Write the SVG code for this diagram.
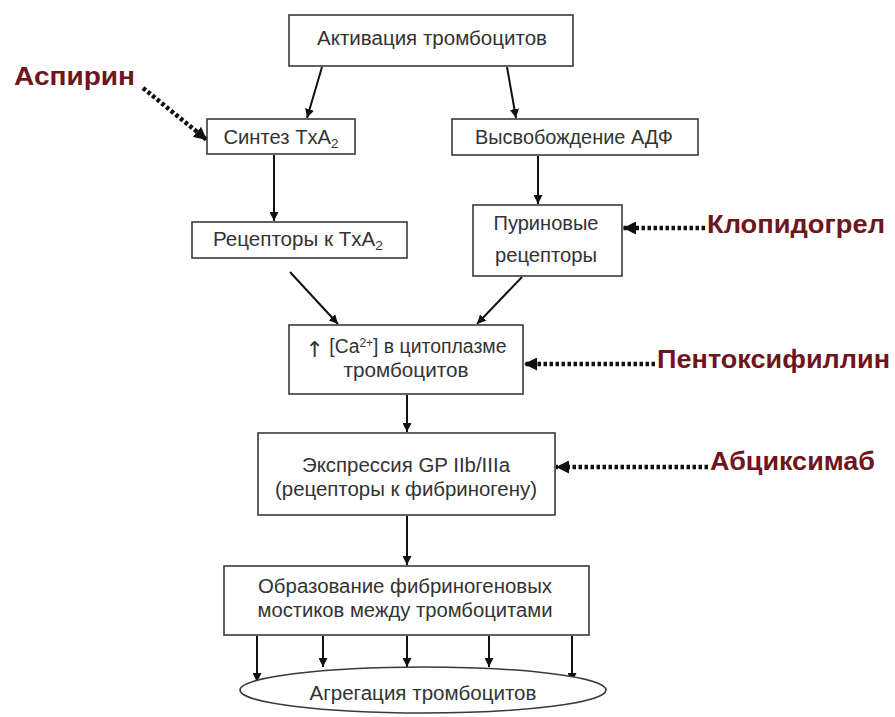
<svg xmlns="http://www.w3.org/2000/svg" width="895" height="717" viewBox="0 0 895 717">
<style>
.box{fill:#fff;stroke:#3a3a3a;stroke-width:1.6}
.t{font-family:"Liberation Sans",Arial,sans-serif;font-size:19.5px;fill:#333;text-anchor:middle}
.drug{font-family:"Liberation Sans",Arial,sans-serif;font-size:25px;font-weight:bold;fill:#6e1520}
.c{stroke:#111;stroke-width:2;fill:none}
.d{stroke:#111;stroke-width:4.5;stroke-dasharray:3.5 2.5;fill:none}
</style>
<defs>
<marker id="ah" viewBox="0 0 10 10" refX="10" refY="5" markerWidth="9" markerHeight="9" markerUnits="userSpaceOnUse" orient="auto"><path d="M0,0 L10,5 L0,10 z" fill="#111"/></marker>
<marker id="dh" viewBox="0 0 10 10" refX="10" refY="5" markerWidth="13" markerHeight="13" markerUnits="userSpaceOnUse" orient="auto"><path d="M0,0 L10,5 L0,10 z" fill="#111"/></marker>
</defs>
<rect width="895" height="717" fill="#fff"/>

<g id="connectors">
<line class="c" x1="322" y1="67" x2="307" y2="118" marker-end="url(#ah)"/>
<line class="c" x1="507" y1="67" x2="516" y2="118" marker-end="url(#ah)"/>
<line class="c" x1="274" y1="155" x2="274" y2="221" marker-end="url(#ah)"/>
<line class="c" x1="538" y1="156" x2="538" y2="204" marker-end="url(#ah)"/>
<line class="c" x1="290" y1="272" x2="338" y2="324" marker-end="url(#ah)"/>
<line class="c" x1="522" y1="277" x2="477" y2="324" marker-end="url(#ah)"/>
<line class="c" x1="407" y1="395" x2="407" y2="432" marker-end="url(#ah)"/>
<line class="c" x1="407" y1="516" x2="407" y2="565" marker-end="url(#ah)"/>
<line class="c" x1="257" y1="636" x2="257" y2="682" marker-end="url(#ah)"/>
<line class="c" x1="323" y1="636" x2="323" y2="667" marker-end="url(#ah)"/>
<line class="c" x1="407" y1="636" x2="407" y2="667" marker-end="url(#ah)"/>
<line class="c" x1="489" y1="636" x2="489" y2="667" marker-end="url(#ah)"/>
<line class="c" x1="572" y1="636" x2="572" y2="682" marker-end="url(#ah)"/>
<line class="d" x1="143" y1="88" x2="207" y2="140" marker-end="url(#dh)"/>
<line class="d" x1="705" y1="228" x2="623" y2="228" marker-end="url(#dh)"/>
<line class="d" x1="655" y1="364" x2="524" y2="364" marker-end="url(#dh)"/>
<line class="d" x1="708" y1="467" x2="556" y2="467" marker-end="url(#dh)"/>
</g>

<g id="activation"><rect class="box" x="289" y="15" width="284" height="51"/><text class="t" x="432" y="45" textLength="230" lengthAdjust="spacingAndGlyphs">Активация тромбоцитов</text></g>
<g id="txa2synth"><rect class="box" x="207" y="119" width="148" height="35"/><text class="t" x="281" y="144" textLength="115" lengthAdjust="spacingAndGlyphs">Синтез TxA<tspan font-size="13" dy="4">2</tspan></text></g>
<g id="adp"><rect class="box" x="452" y="119" width="246" height="36"/><text class="t" x="574" y="144" textLength="198" lengthAdjust="spacingAndGlyphs">Высвобождение АДФ</text></g>
<g id="txa2rec"><rect class="box" x="192" y="222" width="215" height="36"/><text class="t" x="298" y="246" textLength="170" lengthAdjust="spacingAndGlyphs">Рецепторы к TxA<tspan font-size="13" dy="4">2</tspan></text></g>
<g id="purine"><rect class="box" x="473" y="205" width="149" height="71"/><text class="t" x="546" y="230" textLength="105" lengthAdjust="spacingAndGlyphs">Пуриновые</text><text class="t" x="546" y="262" textLength="102" lengthAdjust="spacingAndGlyphs">рецепторы</text></g>
<g id="calcium"><rect class="box" x="289" y="325" width="234" height="69"/><text class="t" x="406" y="353" textLength="201" lengthAdjust="spacingAndGlyphs"><tspan font-family="DejaVu Sans" font-size="22" dy="4">↑</tspan><tspan dy="-4"> [Ca</tspan><tspan font-size="12" dy="-6">2+</tspan><tspan dy="6">] в цитоплазме</tspan></text><text class="t" x="406" y="377" textLength="125" lengthAdjust="spacingAndGlyphs">тромбоцитов</text></g>
<g id="gp"><rect class="box" x="258" y="433" width="297" height="82"/><text class="t" x="406" y="472" textLength="208" lengthAdjust="spacingAndGlyphs">Экспрессия GP IIb/IIIa</text><text class="t" x="406" y="496" textLength="262" lengthAdjust="spacingAndGlyphs">(рецепторы к фибриногену)</text></g>
<g id="bridges"><rect class="box" x="224" y="566" width="365" height="69"/><text class="t" x="405" y="593" textLength="294" lengthAdjust="spacingAndGlyphs">Образование фибриногеновых</text><text class="t" x="405" y="617" textLength="295" lengthAdjust="spacingAndGlyphs">мостиков между тромбоцитами</text></g>
<g id="aggregation"><ellipse class="box" cx="423" cy="690" rx="183" ry="23"/><text class="t" x="423" y="700" textLength="227" lengthAdjust="spacingAndGlyphs">Агрегация тромбоцитов</text></g>

<g id="aspirin"><text class="drug" x="14" y="85" textLength="121" lengthAdjust="spacingAndGlyphs">Аспирин</text></g>
<g id="clopidogrel"><text class="drug" x="707" y="233" textLength="178" lengthAdjust="spacingAndGlyphs">Клопидогрел</text></g>
<g id="pentoxifylline"><text class="drug" x="657" y="368" textLength="233" lengthAdjust="spacingAndGlyphs">Пентоксифиллин</text></g>
<g id="abciximab"><text class="drug" x="710" y="470" textLength="165" lengthAdjust="spacingAndGlyphs">Абциксимаб</text></g>
</svg>
